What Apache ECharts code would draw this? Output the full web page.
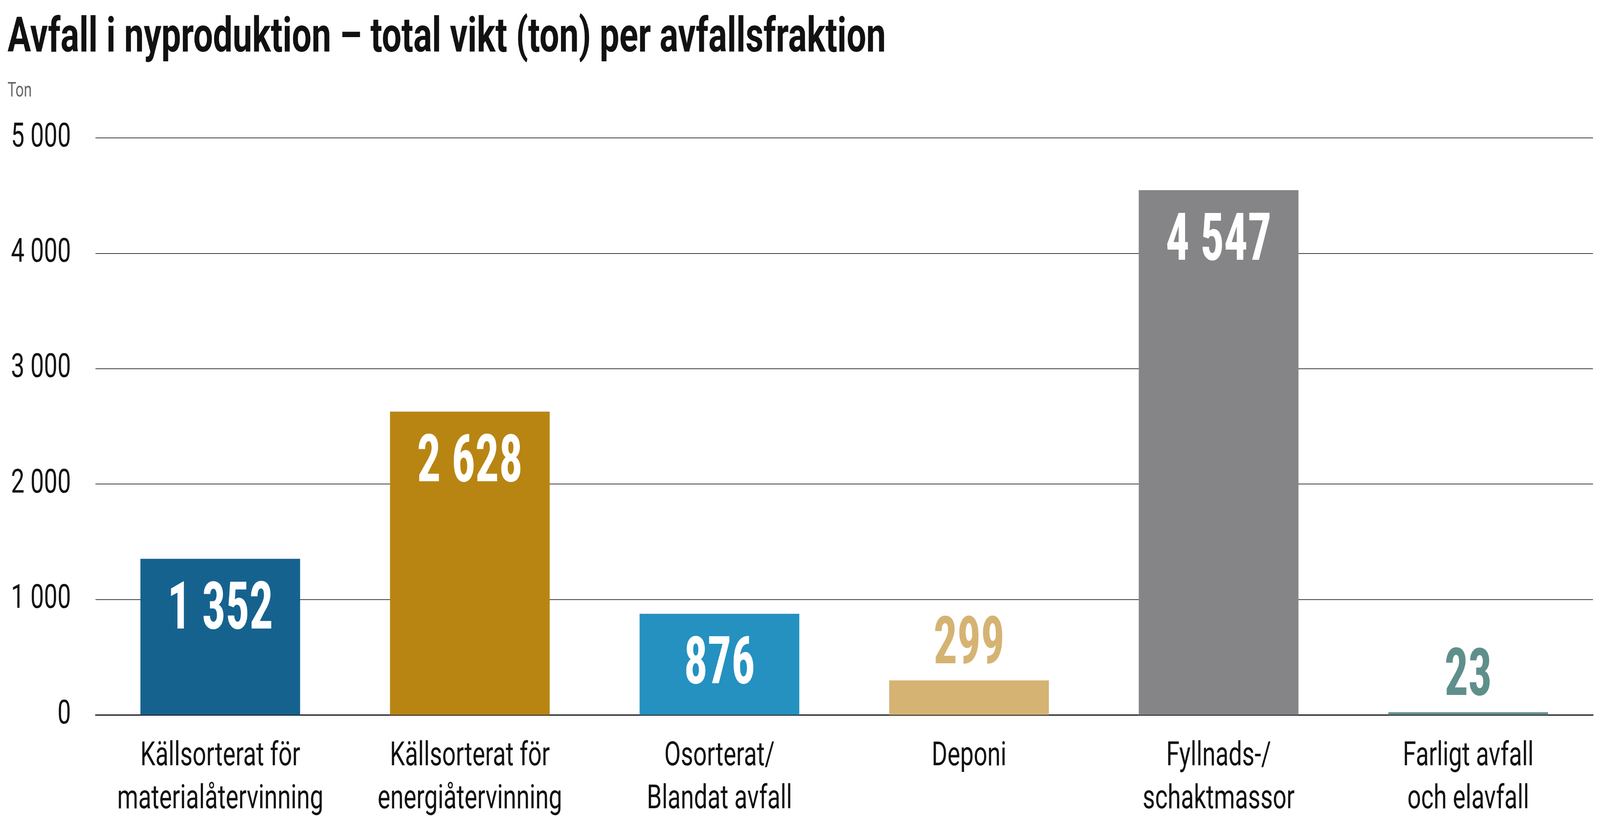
<!DOCTYPE html>
<html>
<head>
<meta charset="utf-8">
<script src="https://cdn.jsdelivr.net/npm/echarts@6/dist/echarts.min.js"></script>
<style>html,body{margin:0;padding:0;background:#fff;overflow:hidden}#c{width:5731px;height:2135px;transform-origin:0 0}</style>
</head>
<body>
<div id="c"></div>
<script>
const titleText = 'Avfall i nyproduktion – total vikt (ton) per avfallsfraktion';
const unitText = 'Ton';
const categories = ['Källsorterat för\nmaterialåtervinning', 'Källsorterat för\nenergiåtervinning', 'Osorterat/\nBlandat avfall', 'Deponi', 'Fyllnads-/\nschaktmassor', 'Farligt avfall\noch elavfall'];
const values = [1352, 2628, 876, 299, 4547, 23];
const barColors = ['#16628F', '#B88513', '#2491C0', '#D5B373', '#858587', '#5F8F8B'];
const yTicks = [0, 1000, 2000, 3000, 4000, 5000];

const FONT = 'Roboto, "Noto Sans", sans-serif';
const FONT_C = '"Roboto Condensed", Roboto, sans-serif';
const fmt = v => String(v).replace(/\B(?=(\d{3})+(?!\d))/g, ' ');

// fit the 5731x2135 design into whatever window we are given
const el = document.getElementById('c');
const sx = Math.min(1, window.innerWidth / 5731), sy = Math.min(1, window.innerHeight / 2135);
if (sx < 1 || sy < 1) el.style.transform = 'scale(' + sx + ',' + sy + ')';

const chart = echarts.init(el, null, {renderer: 'canvas'});
chart.setOption({
  backgroundColor: '#fff',
  animation: false,
  title: [
    {text: titleText, left: 22, top: 26, textStyle: {fontFamily: FONT, fontWeight: 'bold', fontSize: 125, lineHeight: 140, color: '#111'}},
    {text: unitText, left: 22, top: 199, textStyle: {fontFamily: FONT, fontWeight: 'normal', fontSize: 52, lineHeight: 60, color: '#666'}}
  ],
  grid: {left: 342, right: 25, top: 353, bottom: 305, containLabel: false},
  xAxis: {
    type: 'category',
    data: categories,
    axisTick: {show: false},
    axisLine: {show: true, lineStyle: {color: '#111', width: 3}},
    axisLabel: {fontFamily: FONT, fontSize: 86, lineHeight: 110, color: '#111', margin: 52, interval: 0}
  },
  yAxis: {
    type: 'value',
    min: yTicks[0],
    max: yTicks[yTicks.length - 1],
    interval: 1000,
    axisLine: {show: false},
    axisTick: {show: false},
    splitLine: {lineStyle: {color: '#3a3a3a', width: 2}},
    axisLabel: {fontFamily: FONT, fontSize: 86, color: '#111', margin: 88, formatter: v => fmt(v)}
  },
  series: [{
    type: 'bar',
    barWidth: '64%',
    data: values.map((v, i) => {
      const inside = v > 500;
      return {
        value: v,
        itemStyle: {color: barColors[i]},
        label: {
          show: true,
          position: inside ? 'insideTop' : 'top',
          distance: inside ? 52 : 2,
          formatter: p => fmt(p.value),
          fontFamily: FONT_C,
          fontWeight: 'bold',
          fontSize: 168,
          color: inside ? '#fff' : barColors[i]
        }
      };
    })
  }]
});
</script>
</body>
</html>
